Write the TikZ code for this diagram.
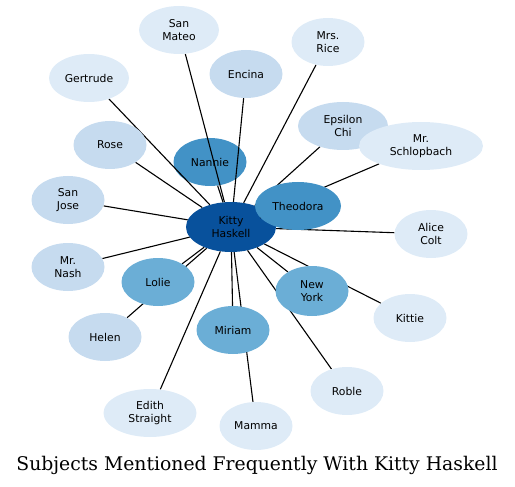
\documentclass[tikz,border=0pt]{standalone}
\usepackage{fontspec}
\usetikzlibrary{shapes.geometric}
\newfontfamily\labelfont{DejaVu Sans}
\newfontfamily\titlefont{DejaVu Serif}
\definecolor{shadeA}{HTML}{DEEBF7}
\definecolor{shadeB}{HTML}{C6DBEF}
\definecolor{shadeC}{HTML}{6BAED6}
\definecolor{shadeD}{HTML}{4292C6}
\definecolor{shadeE}{HTML}{08519C}
\pgfdeclarelayer{back}
\pgfdeclarelayer{links}
\pgfsetlayers{back,links,main}
\tikzset{
    subject/.style={ellipse, inner sep=0pt, align=center, minimum width=73pt, minimum height=48pt,
        font=\labelfont\fontsize{10.8}{12.5}\selectfont},
    rare/.style={subject, fill=shadeA},
    some/.style={subject, fill=shadeB},
    often/.style={subject, fill=shadeC},
    most/.style={subject, fill=shadeD},
    hub/.style={subject, fill=shadeE, minimum width=90pt, minimum height=50pt},
    link/.style={draw=black, line width=1.1pt}
}

\begin{document}
\begin{tikzpicture}[x=1pt, y=-1pt]
    \useasboundingbox (0,0) rectangle (515,487);
    % hub and the node the links run over
    \begin{pgfonlayer}{back}
        \node[hub] (kitty) at (231,227) {Kitty\\Haskell};
        \node[most] (nannie) at (210,162) {Nannie};
    \end{pgfonlayer}
    % ring of subjects
    \node[rare, minimum width=80pt] (sanmateo) at (179,30) {San\\Mateo};
    \node[rare, minimum width=80pt] (gertrude) at (89,78) {Gertrude};
    \node[some] (encina) at (246,74) {Encina};
    \node[rare] (mrsrice) at (328,42) {Mrs.\\Rice};
    \node[some] (rose) at (110,145) {Rose};
    \node[some, minimum width=90pt] (epsilon) at (343,126) {Epsilon\\Chi};
    \node[rare, minimum width=124pt] (schlopbach) at (421,146) {Mr.\\Schlopbach};
    \node[most, minimum width=86pt] (theodora) at (298,206) {Theodora};
    \node[some] (sanjose) at (68,200) {San\\Jose};
    \node[rare] (alicecolt) at (431,234) {Alice\\Colt};
    \node[some] (mrnash) at (68,267) {Mr.\\Nash};
    \node[often] (lolie) at (158,282) {Lolie};
    \node[often, minimum height=50pt] (newyork) at (312,291) {New\\York};
    \node[rare] (kittie) at (410,318) {Kittie};
    \node[some] (helen) at (105,337) {Helen};
    \node[often] (miriam) at (233,330) {Miriam};
    \node[rare] (roble) at (347,391) {Roble};
    \node[rare, minimum width=93pt] (edith) at (150,413) {Edith\\Straight};
    \node[rare] (mamma) at (256,426) {Mamma};
    % links from the hub
    \begin{pgfonlayer}{links}
        \foreach \n in {nannie, sanmateo, gertrude, encina, mrsrice, rose, epsilon, schlopbach,
            theodora, sanjose, alicecolt, mrnash, lolie, newyork, kittie, helen, miriam, roble,
            edith, mamma}
            \draw[link] (kitty) -- (\n);
    \end{pgfonlayer}
    \node[font=\titlefont\fontsize{18.8}{22}\selectfont] (title) at (257,465)
        {Subjects Mentioned Frequently With Kitty Haskell};
\end{tikzpicture}
\end{document}
